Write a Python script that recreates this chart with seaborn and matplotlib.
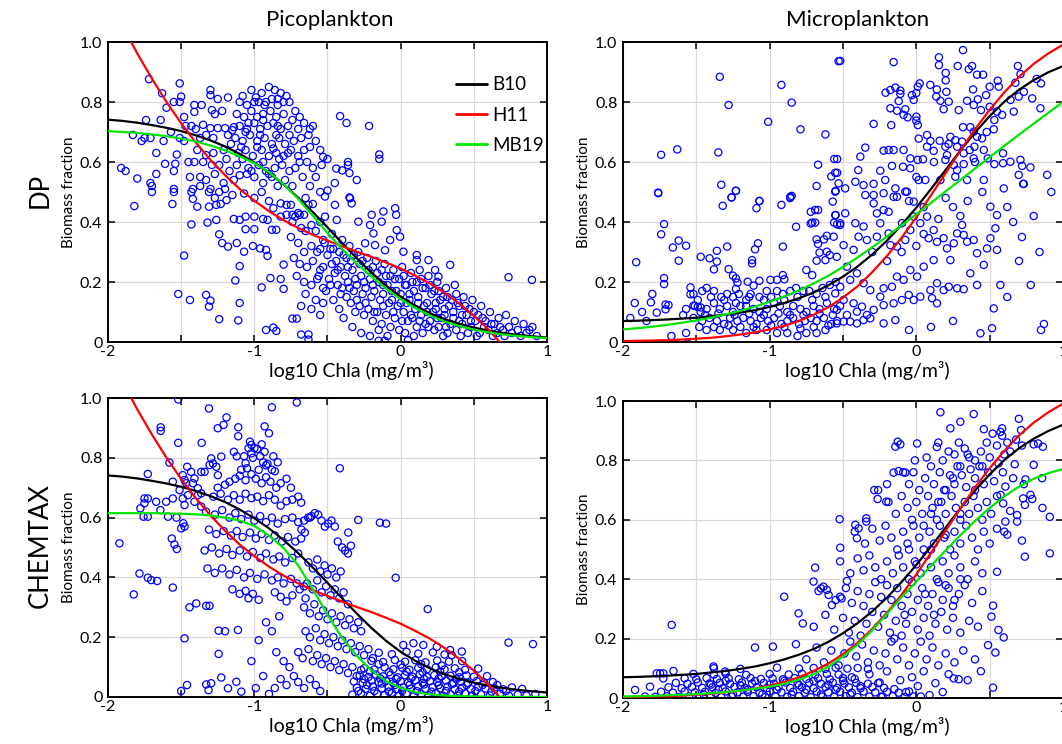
import matplotlib
matplotlib.use("Agg")
import matplotlib.pyplot as plt
from matplotlib.lines import Line2D
import seaborn as sns

# ---------------------------------------------------------------- data
log_chla = [-2.0, -1.9, -1.8, -1.7, -1.6, -1.5, -1.4, -1.3, -1.2, -1.1, -1.0,
            -0.9, -0.8, -0.7, -0.6, -0.5, -0.4, -0.3, -0.2, -0.1, 0.0,
            0.1, 0.2, 0.3, 0.4, 0.5, 0.6, 0.7, 0.8, 0.9, 1.0]

# model curves (biomass fraction vs log10 Chla)
pico_b10 = [0.741, 0.737, 0.731, 0.723, 0.714, 0.703, 0.689, 0.672, 0.652, 0.627, 0.598,
            0.564, 0.525, 0.481, 0.433, 0.382, 0.330, 0.279, 0.231, 0.188, 0.151,
            0.121, 0.096, 0.076, 0.061, 0.048, 0.038, 0.030, 0.024, 0.019, 0.015]
pico_h11 = [1.151, 1.053, 0.962, 0.878, 0.800, 0.729, 0.665, 0.607, 0.556, 0.510, 0.471,
            0.436, 0.406, 0.380, 0.357, 0.338, 0.319, 0.301, 0.284, 0.265, 0.245,
            0.221, 0.195, 0.164, 0.128, 0.088, 0.041, -0.012, -0.071, -0.137, -0.210]
pico_mb19_dp = [0.703, 0.700, 0.697, 0.692, 0.686, 0.678, 0.668, 0.655, 0.639, 0.619, 0.596,
                0.566, 0.526, 0.477, 0.421, 0.363, 0.310, 0.262, 0.218, 0.178, 0.143,
                0.113, 0.088, 0.068, 0.053, 0.041, 0.032, 0.025, 0.020, 0.016, 0.013]
pico_mb19_chemtax = [0.615, 0.615, 0.615, 0.615, 0.614, 0.613, 0.611, 0.607, 0.600, 0.590, 0.572,
                     0.540, 0.498, 0.440, 0.360, 0.275, 0.198, 0.138, 0.089, 0.053, 0.030,
                     0.016, 0.009, 0.005, 0.003, 0.002, 0.001, 0.001, 0.0, 0.0, 0.0]
micro_b10 = [0.070, 0.071, 0.073, 0.075, 0.078, 0.081, 0.086, 0.091, 0.098, 0.106, 0.117,
             0.130, 0.146, 0.165, 0.189, 0.218, 0.252, 0.292, 0.338, 0.391, 0.448,
             0.510, 0.574, 0.638, 0.698, 0.753, 0.801, 0.841, 0.873, 0.899, 0.920]
micro_h11 = [0.003, 0.004, 0.005, 0.006, 0.008, 0.011, 0.014, 0.019, 0.025, 0.032, 0.042,
             0.054, 0.070, 0.091, 0.116, 0.148, 0.186, 0.233, 0.287, 0.348, 0.416,
             0.489, 0.563, 0.638, 0.709, 0.774, 0.832, 0.884, 0.927, 0.962, 0.991]
micro_mb19_dp = [0.042, 0.046, 0.051, 0.057, 0.064, 0.072, 0.081, 0.092, 0.104, 0.118, 0.134,
                 0.152, 0.172, 0.195, 0.221, 0.250, 0.282, 0.316, 0.352, 0.389, 0.426,
                 0.464, 0.502, 0.540, 0.578, 0.616, 0.654, 0.691, 0.728, 0.764, 0.800]
micro_mb19_chemtax = [0.005, 0.006, 0.007, 0.009, 0.011, 0.013, 0.016, 0.020, 0.025, 0.031, 0.038,
                      0.048, 0.062, 0.080, 0.105, 0.140, 0.180, 0.228, 0.283, 0.340, 0.392,
                      0.445, 0.497, 0.548, 0.596, 0.640, 0.679, 0.712, 0.738, 0.757, 0.771]

# observations: (log10 Chla, biomass fraction)
dp_pico_obs = [
    (-1.91, .58), (-1.80, .545), (-1.72, .876), (-1.74, .74), (-1.75, .68), (-1.71, .68), (-1.77, .67),
    (-1.71, .53), (-1.70, .52), (-1.67, .63), (-1.67, .56), (-1.64, .74), (-1.63, .829), (-1.60, .781),
    (-1.61, .594), (-1.55, .80), (-1.51, .80), (-1.51, .862), (-1.50, .818), (-1.54, .594), (-1.53, .625),
    (-1.55, .57), (-1.55, .51), (-1.51, .68), (-1.48, .67), (-1.47, .72), (-1.43, .72), (-1.40, .71),
    (-1.82, .453), (-1.70, .50), (-1.55, .50), (-1.88, .57), (-1.83, .69), (-1.62, .67), (-1.57, .70),
    (-1.45, .60), (-1.44, .55), (-1.48, .75), (-1.56, .46),
    (-1.41, .79), (-1.36, .79), (-1.30, .84), (-1.30, .823), (-1.25, .81), (-1.18, .815), (-1.29, .773),
    (-1.22, .77), (-1.27, .76), (-1.41, .767), (-1.35, .724), (-1.30, .713), (-1.25, .713), (-1.20, .713),
    (-1.14, .716), (-1.37, .68), (-1.33, .69), (-1.28, .68), (-1.18, .69), (-1.15, .706), (-1.39, .64),
    (-1.33, .623), (-1.28, .63), (-1.21, .64), (-1.41, .60), (-1.35, .60), (-1.29, .59), (-1.24, .59),
    (-1.37, .55), (-1.33, .54), (-1.27, .56), (-1.21, .53), (-1.42, .51), (-1.37, .52), (-1.30, .51),
    (-1.24, .50), (-1.20, .51), (-1.43, .50), (-1.42, .477), (-1.39, .451), (-1.31, .50), (-1.27, .48),
    (-1.26, .457), (-1.23, .46), (-1.19, .473), (-1.31, .451), (-1.16, .66), (-1.19, .61), (-1.17, .57),
    (-1.02, .84), (-0.95, .83), (-0.90, .85), (-0.86, .84), (-0.82, .83), (-0.78, .82), (-0.88, .81),
    (-0.97, .80), (-1.10, .80), (-1.05, .79), (-1.00, .80), (-0.93, .79), (-0.84, .79), (-0.76, .80),
    (-0.72, .77), (-1.12, .76), (-1.07, .75), (-1.02, .77), (-0.98, .75), (-0.94, .76), (-0.89, .77),
    (-0.85, .75), (-0.80, .76), (-0.74, .74), (-1.10, .72), (-1.05, .71), (-1.00, .73), (-0.96, .71),
    (-0.91, .72), (-0.87, .73), (-0.82, .71), (-0.77, .72), (-0.70, .71), (-1.13, .68), (-1.08, .67),
    (-1.03, .69), (-0.98, .67), (-0.93, .68), (-0.88, .66), (-0.83, .68), (-0.79, .66), (-0.73, .67),
    (-0.68, .68), (-1.11, .63), (-1.06, .64), (-1.01, .62), (-0.95, .64), (-0.90, .62), (-0.85, .63),
    (-0.80, .62), (-0.75, .64), (-0.70, .62), (-0.66, .64), (-1.12, .59), (-1.04, .58), (-0.97, .59),
    (-0.92, .57), (-0.86, .58), (-0.81, .59), (-0.76, .57), (-0.72, .58), (-1.14, .54), (-1.10, .556),
    (-1.05, .56), (-1.00, .55), (-0.94, .53), (-0.88, .55), (-0.84, .52), (-0.79, .54), (-0.74, .52),
    (-1.15, .49), (-1.07, .495), (-1.00, .48), (-0.95, .50), (-0.90, .47),
    (-1.08, .82), (-0.99, .815), (-0.92, .80), (-0.84, .81), (-0.80, .80), (-1.04, .73), (-0.94, .74),
    (-0.84, .72), (-1.06, .70), (-0.96, .69), (-0.85, .69), (-0.76, .69), (-1.09, .65), (-0.98, .65),
    (-0.87, .645), (-0.77, .63), (-1.08, .61), (-0.94, .60), (-0.83, .61), (-0.69, .60), (-1.02, .57),
    (-0.90, .56),
    (-0.69, .75), (-0.66, .73), (-0.62, .71), (-0.63, .69), (-0.60, .72), (-0.62, .65), (-0.58, .67),
    (-0.55, .64), (-0.53, .617), (-0.50, .61), (-0.54, .59), (-0.44, .578), (-0.40, .572), (-0.35, .563),
    (-0.30, .54), (-0.45, .53), (-0.50, .505), (-0.35, .482), (-0.414, .753), (-0.37, .73), (-0.216, .72),
    (-0.36, .60), (-0.36, .59), (-0.146, .625), (-0.146, .61), (-0.64, .60), (-0.60, .58), (-0.67, .55),
    (-0.62, .52), (-0.58, .55), (-0.55, .50), (-0.65, .48), (-0.60, .46),
    (-1.14, .41), (-1.10, .407), (-1.06, .418), (-1.00, .418), (-1.06, .376), (-1.00, .376), (-1.12, .33),
    (-1.07, .301), (-1.01, .32), (-0.96, .312), (-0.92, .307), (-0.91, .287), (-0.94, .41), (-0.91, .407),
    (-0.88, .374), (-0.85, .374), (-0.82, .418), (-0.78, .424), (-0.74, .424), (-0.69, .424), (-0.66, .424),
    (-0.63, .457), (-0.87, .446), (-0.82, .462), (-0.78, .457), (-0.75, .457), (-0.72, .418), (-1.43, .392),
    (-1.32, .398), (-1.26, .407), (-1.24, .359), (-1.22, .33), (-1.18, .318), (-1.48, .288), (-1.10, .253),
    (-1.13, .205), (-0.89, .213), (-0.82, .21), (-0.80, .177), (-0.80, .258), (-0.95, .182),
    (-0.74, .40), (-0.70, .43), (-0.68, .38), (-0.65, .37), (-0.61, .39), (-0.58, .37), (-0.55, .40),
    (-0.75, .35), (-0.70, .33), (-0.66, .30), (-0.61, .32), (-0.57, .30), (-0.53, .34), (-0.73, .28),
    (-0.69, .26), (-0.64, .25), (-0.60, .27), (-0.55, .24), (-0.71, .22), (-0.66, .20), (-0.61, .19),
    (-0.57, .21), (-0.53, .18), (-0.65, .16), (-0.58, .14), (-0.53, .13), (-0.68, .12), (-0.61, .11),
    (-0.55, .09),
    (-1.33, .157), (-1.30, .138), (-1.31, .118), (-1.24, .076), (-1.10, .13), (-1.11, .072), (-0.92, .04),
    (-0.87, .048), (-0.85, .037), (-0.74, .078), (-0.71, .078), (-0.68, .025), (-0.63, .008), (-0.63, .025),
    (-1.52, .16), (-1.44, .14),
    (-0.52, .33), (-0.50, .29), (-0.53, .25), (-0.49, .21), (-0.51, .17), (-0.47, .36), (-0.46, .31),
    (-0.44, .27), (-0.45, .23), (-0.43, .19), (-0.46, .14), (-0.42, .11), (-0.40, .34), (-0.39, .29),
    (-0.41, .25), (-0.38, .22), (-0.40, .18), (-0.37, .15), (-0.39, .08), (-0.35, .32), (-0.34, .27),
    (-0.33, .24), (-0.36, .20), (-0.32, .17), (-0.34, .13), (-0.31, .10), (-0.33, .05), (-0.29, .30),
    (-0.28, .26), (-0.27, .22), (-0.30, .19), (-0.26, .16), (-0.28, .12), (-0.25, .09), (-0.27, .03),
    (-0.23, .28), (-0.22, .24), (-0.21, .21), (-0.24, .18), (-0.20, .15), (-0.22, .11), (-0.19, .07),
    (-0.21, .02), (-0.17, .27), (-0.16, .23), (-0.15, .20), (-0.18, .17), (-0.14, .14), (-0.16, .10),
    (-0.13, .06), (-0.15, .04), (-0.11, .26), (-0.10, .22), (-0.09, .19), (-0.12, .16), (-0.08, .13),
    (-0.10, .09), (-0.07, .05), (-0.09, .02), (-0.05, .24), (-0.04, .21), (-0.03, .17), (-0.06, .14),
    (-0.02, .12), (-0.04, .08), (-0.01, .04), (0.01, .25), (0.02, .22), (0.03, .19), (0.00, .16),
    (0.04, .13), (0.02, .10), (0.05, .07), (0.03, .03), (0.07, .23), (0.08, .20), (0.09, .17),
    (0.06, .14), (0.10, .11), (0.08, .08), (0.11, .05), (0.09, .02), (0.13, .24), (0.14, .21),
    (0.15, .18), (0.12, .15), (0.16, .12), (0.14, .09), (0.17, .06), (0.15, .03), (0.19, .22),
    (0.20, .19), (0.21, .16), (0.18, .13), (0.22, .10), (0.20, .07), (0.23, .04), (0.25, .20),
    (0.26, .17), (0.27, .14), (0.24, .11), (0.28, .08), (0.26, .05), (0.29, .02), (0.31, .18),
    (0.32, .15), (0.33, .12), (0.30, .09), (0.34, .06), (0.32, .03), (0.37, .19), (0.38, .16),
    (0.39, .13), (0.36, .10), (0.40, .07), (0.38, .04), (0.41, .02), (0.43, .15), (0.44, .12),
    (0.45, .09), (0.42, .06), (0.46, .03), (0.49, .14), (0.50, .10), (0.51, .07), (0.48, .05),
    (0.52, .02), (0.55, .12), (0.56, .08), (0.57, .05), (0.54, .03), (0.61, .10), (0.62, .06),
    (0.60, .04), (0.63, .02), (0.67, .08), (0.68, .05), (0.66, .03), (0.72, .09), (0.74, .05),
    (0.71, .02), (0.78, .07), (0.80, .04), (0.84, .06), (0.86, .03), (0.90, .05), (0.93, .02),
    (-0.48, .31), (-0.47, .26), (-0.48, .19), (-0.42, .30), (-0.43, .24), (-0.41, .16), (-0.37, .28),
    (-0.36, .25), (-0.35, .18), (-0.32, .29), (-0.31, .21), (-0.30, .14), (-0.26, .27), (-0.25, .20),
    (-0.24, .13), (-0.19, .25), (-0.19, .19), (-0.18, .10), (-0.13, .24), (-0.12, .19), (-0.12, .12),
    (-0.07, .22), (-0.06, .17), (-0.05, .10), (-0.01, .21), (0.00, .13), (0.01, .07), (0.04, .19),
    (0.06, .16), (0.07, .09), (0.11, .20), (0.12, .13), (0.13, .07), (0.17, .18), (0.18, .10),
    (0.19, .05), (0.23, .17), (0.24, .13), (0.25, .08), (0.29, .15), (0.30, .11), (0.31, .05),
    (0.35, .14), (0.36, .08), (0.40, .12), (0.42, .09), (0.47, .11), (0.48, .07), (0.53, .09),
    (0.58, .07), (0.64, .06), (0.70, .04), (0.76, .03), (0.82, .02), (0.88, .04), (-0.55, .31),
    (-0.56, .22),
    (-0.517, .485), (-0.449, .457), (-0.346, .479), (-0.335, .462), (-0.517, .418), (-0.437, .407),
    (-0.289, .401), (-0.198, .424), (-0.209, .39), (-0.118, .435), (-0.038, .446), (-0.031, .424),
    (-0.13, .401), (-0.027, .373), (-0.004, .351), (-0.072, .34), (-0.186, .362), (-0.243, .329),
    (-0.175, .323), (-0.107, .306), (0.019, .301), (0.11, .29), (0.11, .273), (0.19, .273),
    (0.338, .257), (0.235, .24), (0.258, .218), (0.737, .216), (0.897, .207),
    (-0.15, .004), (-0.11, .004), (0.05, .006),
]

dp_micro_obs = [
    (-1.52, .16), (-1.46, .17), (-1.43, .18), (-1.38, .17), (-1.33, .15), (-1.29, .16), (-1.25, .15),
    (-1.21, .16), (-1.16, .14), (-1.13, .16), (-1.07, .15), (-1.02, .17), (-0.95, .17), (-0.91, .16),
    (-0.86, .17), (-0.82, .18), (-0.77, .17), (-0.73, .17), (-0.68, .16), (-0.64, .18), (-0.59, .19),
    (-0.55, .20), (-1.57, .11), (-1.51, .12), (-1.47, .10), (-1.43, .11), (-1.38, .13), (-1.34, .11),
    (-1.29, .12), (-1.25, .10), (-1.20, .12), (-1.16, .12), (-1.11, .11), (-1.07, .10), (-1.02, .11),
    (-0.97, .13), (-0.93, .12), (-0.88, .10), (-0.84, .12), (-0.79, .11), (-0.75, .10), (-0.70, .12),
    (-0.66, .11), (-0.61, .13), (-0.56, .11), (-0.52, .12), (-1.52, .08), (-1.46, .07), (-1.41, .08),
    (-1.36, .07), (-1.31, .06), (-1.27, .08), (-1.22, .07), (-1.18, .08), (-1.13, .07), (-1.09, .06),
    (-1.06, .08), (-1.01, .07), (-0.97, .08), (-0.92, .06), (-0.88, .07), (-0.84, .08), (-0.80, .06),
    (-0.76, .07), (-0.72, .08), (-0.68, .07), (-0.63, .08), (-0.58, .06), (-0.54, .07), (-1.57, .03),
    (-1.43, .04), (-1.34, .04), (-1.25, .04), (-1.16, .03), (-1.09, .04), (-1.02, .04), (-0.95, .03),
    (-0.88, .03), (-0.81, .02), (-0.75, .03), (-0.68, .03), (-0.62, .04), (-1.56, -.005),
    (-1.49, .14), (-1.40, .15), (-1.31, .14), (-1.23, .13), (-1.14, .15), (-1.04, .14), (-0.99, .15),
    (-0.90, .14), (-0.81, .15), (-0.71, .14), (-0.62, .15), (-1.44, .09), (-1.35, .095), (-1.24, .09),
    (-1.14, .095), (-1.04, .09), (-0.94, .095), (-0.86, .09), (-0.77, .09), (-0.66, .095), (-0.57, .09),
    (-1.48, .05), (-1.38, .05), (-1.28, .055), (-1.20, .05), (-1.11, .05), (-0.99, .055), (-0.90, .05),
    (-0.79, .045), (-0.70, .05), (-0.60, .055),
    (-1.91, .266), (-1.76, .498), (-1.72, .393), (-1.74, .359), (-1.66, .315), (-1.62, .338), (-1.62, .271),
    (-1.57, .321), (-1.72, .213), (-1.72, .193), (-1.81, .132), (-1.77, .098), (-1.71, .125), (-1.71, .109),
    (-1.69, .123), (-1.67, .02), (-1.54, .182), (-1.54, .159), (-1.59, .09), (-1.52, .121), (-1.49, .117),
    (-1.47, .115), (-1.47, .284), (-1.41, .279), (-1.36, .268), (-1.36, .304), (-1.38, .242), (-1.32, .454),
    (-1.26, .482), (-1.23, .504), (-1.29, .318), (-1.28, .243), (-1.25, .221), (-1.23, .212), (-1.22, .198),
    (-1.23, .177), (-1.15, .201), (-1.11, .188), (-1.07, .204), (-0.995, .207), (-0.95, .207), (-1.12, .273),
    (-1.12, .262), (-1.10, .309), (-1.08, .329), (-1.09, .446), (-1.07, .47), (-0.92, .457), (-0.86, .484),
    (-0.85, .487), (-0.91, .318), (-0.91, .223), (-0.90, .209), (-0.82, .384), (-0.75, .24), (-0.71, .223),
    (-0.68, .271), (-0.66, .298), (-0.62, .273), (-0.61, .301), (-0.59, .29), (-0.72, .395), (-0.71, .398),
    (-0.69, .398), (-0.68, .342), (-0.67, .327), (-0.63, .342), (-0.61, .354), (-0.56, .398), (-0.55, .423),
    (-0.54, .392), (-0.52, .39), (-0.72, .434), (-0.69, .44), (-0.67, .44), (-0.57, .468),
    (-1.92, .13), (-1.87, .10), (-1.84, .07), (-1.80, .16), (-1.95, .08),
    (-1.34, .884), (-1.28, .79), (-0.92, .857), (-0.85, .798), (-1.01, .734), (-0.79, .709), (-0.62, .692),
    (-0.53, .936), (-1.74, .624), (-1.63, .642), (-1.35, .632), (-1.76, .496), (-1.33, .524), (-1.23, .504),
    (-1.26, .482), (-1.07, .47), (-0.86, .48), (-0.68, .52), (-0.67, .591), (-0.54, .61), (-0.58, .552),
    (-0.54, .564), (-0.53, .529), (-0.55, .504),
    (-0.519, .937), (-0.155, .933), (0.154, .949), (0.154, .923), (0.318, .973), (0.282, .92), (0.357, .909),
    (0.38, .92), (0.2, .897), (0.2, .872), (0.414, .891), (0.455, .891), (0.555, .871), (0.562, .851),
    (0.692, .92), (0.71, .893), (0.675, .864), (0.82, .877), (0.85, .862), (-0.21, .831), (-0.177, .84),
    (-0.143, .848), (-0.109, .838), (-0.109, .827), (-0.03, .823), (-0.018, .807), (0.0, .83), (0.023, .862),
    (0.01, .851), (0.095, .857), (0.14, .842), (0.205, .834), (0.164, .804), (0.136, .818), (-0.12, .803),
    (-0.177, .779), (-0.132, .771), (-0.075, .776), (-0.087, .757), (-0.06, .749), (0.0, .751), (0.01, .723),
    (0.186, .776), (0.221, .801), (0.289, .773), (0.346, .804), (0.387, .842), (0.391, .79), (0.419, .809),
    (0.441, .773), (0.475, .823), (0.5, .851), (0.5, .784), (0.55, .768), (0.585, .757), (0.642, .807),
    (0.664, .768), (0.698, .818), (0.733, .834), (0.79, .812), (0.846, .779),
    (-0.291, .727), (-0.171, .723), (0.0, .738), (0.016, .678), (0.073, .69), (0.096, .67), (0.073, .651),
    (0.118, .637), (0.159, .671), (0.198, .651), (0.232, .684), (0.266, .673), (0.278, .651), (0.312, .668),
    (0.318, .716), (0.368, .716), (0.391, .701), (0.414, .684), (0.448, .679), (0.396, .651), (0.364, .64),
    (0.323, .629), (0.209, .623), (0.198, .607), (0.255, .59), (0.278, .573), (0.323, .593), (0.391, .612),
    (0.46, .64), (0.487, .612), (0.528, .709), (0.532, .74), (0.591, .629), (0.591, .596), (0.532, .593),
    (0.641, .601), (0.71, .607), (0.721, .587), (0.778, .582), (0.698, .557), (0.733, .527), (0.892, .557),
    (-0.223, .638), (-0.189, .64), (-0.155, .64), (-0.087, .64), (-0.348, .648), (-0.382, .618), (-0.56, .61),
    (-0.041, .612), (0.009, .607), (0.045, .609), (-0.041, .579), (-0.091, .584), (-0.166, .587),
    (-0.246, .571), (-0.396, .573), (-0.553, .564), (-0.416, .534), (-0.36, .523), (-0.291, .527),
    (-0.212, .54), (-0.143, .512), (-0.075, .501), (0.016, .54), (0.061, .54), (0.164, .54), (0.266, .551),
    (0.346, .54), (0.46, .54), (0.596, .512), (0.728, .527), (-0.485, .512), (-0.553, .501), (-0.348, .49),
    (-0.223, .496), (-0.132, .484),
    (-0.553, .423), (-0.485, .429), (-0.519, .396), (-0.564, .351), (-0.496, .323), (-0.542, .284),
    (-0.473, .251), (-0.428, .307), (-0.394, .351), (-0.36, .385), (-0.416, .396), (-0.337, .34),
    (-0.291, .462), (-0.269, .429), (-0.223, .44), (-0.189, .434), (-0.246, .396), (-0.189, .362),
    (-0.269, .351), (-0.177, .323), (-0.132, .318), (-0.098, .396), (-0.075, .34), (-0.041, .373),
    (-0.018, .418), (0.027, .396), (0.073, .418), (0.084, .346), (0.118, .373), (0.141, .334), (0.186, .346),
    (0.209, .312), (0.255, .329), (0.278, .362), (0.312, .39), (0.323, .357), (0.346, .334), (0.232, .273),
    (0.118, .273), (0.05, .251), (0.005, .218), (-0.041, .24), (-0.087, .207), (-0.132, .218), (-0.166, .184),
    (-0.223, .179), (-0.246, .151), (-0.314, .173), (-0.36, .196), (-0.405, .229), (-0.451, .207),
    (-0.519, .184), (-0.553, .162), (-0.496, .14), (-0.428, .129), (-0.371, .118), (-0.542, .107),
    (-0.473, .09), (-0.405, .101), (-0.337, .09), (-0.291, .107), (-0.223, .123), (-0.155, .129),
    (-0.098, .14), (-0.052, .157), (-0.018, .14), (0.027, .151), (0.096, .173), (0.141, .196), (0.186, .173),
    (0.221, .184), (0.278, .179), (0.323, .176), (0.368, .229), (0.414, .296), (0.46, .257), (0.482, .312),
    (0.391, .34), (0.539, .379), (0.55, .307), (0.573, .19), (0.505, .346), (0.505, .451), (0.55, .423),
    (0.528, .112), (0.107, .146), (0.141, .129), (0.414, .19), (-0.223, .062), (-0.143, .073), (0.437, .029),
    (0.516, .046), (-0.542, .062), (-0.451, .068), (-0.36, .073), (-0.314, .079), (-0.405, .062),
    (-0.496, .068), (-0.291, .49), (-0.155, .484), (-0.018, .468), (-0.064, .501),
    (0.62, .45), (0.66, .40), (0.72, .35), (0.80, .42), (0.84, .30), (0.70, .27), (0.92, .50), (0.87, .06),
    (0.85, .04), (0.62, .15), (0.78, .19), (-0.05, .04), (0.10, .05), (0.25, .07),
    (-0.30, .30), (-0.20, .27), (-0.10, .30), (0.00, .32), (0.05, .36), (0.15, .41), (0.25, .45),
    (0.35, .47), (0.45, .50), (0.05, .45), (0.20, .48), (0.30, .42), (-0.05, .47), (0.40, .60),
    (0.12, .60), (0.00, .55), (0.22, .66), (0.48, .70),
]

chemtax_pico_obs = [
    (-1.52, .995), (-1.31, .965), (-0.88, .969), (-0.71, .985), (-1.19, .935), (-1.21, .91), (-1.25, .899),
    (-1.11, .902), (-1.11, .872), (-0.93, .905), (-0.90, .882), (-1.64, .902), (-1.64, .89), (-1.52, .85),
    (-1.36, .85),
    (-1.03, .854), (-1.02, .843), (-1.04, .832), (-1.00, .832), (-1.02, .815), (-0.98, .83), (-0.95, .845),
    (-0.96, .805), (-0.93, .82), (-0.91, .78), (-0.87, .805), (-0.94, .785), (-0.92, .775), (-1.01, .80),
    (-1.07, .805), (-1.06, .782), (-1.12, .805), (-1.14, .82), (-0.88, .76), (-0.84, .785), (-0.86, .755),
    (-0.97, .76), (-1.05, .765), (-1.09, .76),
    (-1.295, .798), (-1.283, .781), (-1.306, .776), (-1.226, .804), (-1.249, .742), (-1.26, .77),
    (-1.58, .784), (-1.459, .77), (-1.489, .742), (-1.432, .753), (-1.409, .731), (-1.363, .753),
    (-1.34, .753), (-1.728, .746), (-1.557, .72), (-1.477, .726), (-1.466, .715), (-1.42, .715),
    (-1.386, .698), (-1.454, .675), (-1.489, .664), (-1.386, .675), (-1.363, .681), (-1.751, .664),
    (-1.728, .664), (-1.751, .648), (-1.671, .653), (-1.603, .653), (-1.557, .664), (-1.511, .692),
    (-1.477, .642), (-1.409, .653), (-1.363, .637), (-1.779, .631), (-1.757, .603), (-1.728, .603),
    (-1.642, .625), (-1.59, .603), (-1.532, .6), (-1.486, .581), (-1.477, .57), (-1.922, .514),
    (-1.564, .53), (-1.546, .51), (-1.53, .495), (-1.5, .564), (-1.785, .413), (-1.728, .399),
    (-1.705, .391), (-1.664, .388), (-1.557, .366), (-1.824, .343), (-1.443, .3), (-1.397, .313),
    (-1.329, .305), (-1.306, .305), (-1.477, .196), (-1.244, .222), (-1.244, .144), (-1.226, .065),
    (-1.18, .029), (-1.329, .042), (-1.313, .023), (-1.295, .046), (-1.123, .051), (-1.089, .018),
    (-1.112, .224),
    (-1.25, .70), (-1.20, .71), (-1.17, .72), (-1.13, .73), (-1.10, .74), (-1.06, .725), (-1.02, .745),
    (-0.99, .73), (-0.95, .715), (-0.92, .735), (-0.89, .72), (-0.85, .70), (-0.82, .715), (-0.78, .73),
    (-0.75, .70), (-1.28, .67), (-1.23, .68), (-1.18, .66), (-1.14, .675), (-1.10, .66), (-1.06, .68),
    (-1.02, .665), (-0.98, .67), (-0.94, .655), (-0.90, .675), (-0.86, .66), (-0.82, .64), (-0.78, .655),
    (-0.74, .66), (-0.70, .67), (-0.68, .65), (-1.33, .62), (-1.27, .61), (-1.22, .625), (-1.17, .60),
    (-1.13, .615), (-1.09, .595), (-1.04, .61), (-1.00, .59), (-0.96, .605), (-0.92, .585), (-0.88, .60),
    (-0.84, .58), (-0.79, .595), (-0.74, .60), (-0.70, .585), (-0.66, .59), (-0.62, .60), (-1.31, .56),
    (-1.26, .545), (-1.21, .555), (-1.16, .54), (-1.12, .555), (-1.08, .535), (-1.03, .55), (-0.99, .53),
    (-0.95, .545), (-0.90, .525), (-0.86, .54), (-0.81, .52), (-0.77, .535), (-0.72, .52), (-0.68, .53),
    (-1.34, .49), (-1.29, .50), (-1.24, .48), (-1.19, .495), (-1.15, .475), (-1.10, .49), (-1.05, .47),
    (-1.01, .485), (-0.96, .465), (-0.92, .48), (-0.87, .46), (-0.83, .47), (-0.79, .45), (-0.74, .465),
    (-0.70, .48), (-1.32, .43), (-1.27, .415), (-1.22, .43), (-1.17, .41), (-1.12, .425), (-1.07, .40),
    (-1.03, .415), (-0.98, .395), (-0.93, .41), (-0.88, .39), (-0.84, .40), (-0.80, .38), (-0.75, .395),
    (-0.71, .38), (-1.15, .36), (-1.10, .345), (-1.06, .355), (-1.04, .33), (-1.01, .345), (-0.97, .325),
    (-0.86, .35), (-0.82, .335), (-0.78, .32), (-0.74, .34), (-0.69, .36), (-0.66, .37), (-0.65, .33),
    (-0.678, .56), (-0.655, .55), (-0.632, .60), (-0.61, .605), (-0.587, .615), (-0.564, .61),
    (-0.541, .59), (-0.518, .57), (-0.495, .58), (-0.473, .59), (-0.45, .57), (-0.43, .52), (-0.40, .50),
    (-0.38, .49), (-0.36, .48), (-0.416, .765), (-0.29, .592), (-0.358, .55), (-0.34, .506), (-0.142, .583),
    (-0.10, .58), (-0.034, .399),
    (-0.63, .45), (-0.60, .43), (-0.57, .46), (-0.55, .42), (-0.52, .44), (-0.50, .41), (-0.47, .43),
    (-0.44, .40), (-0.41, .42), (-0.64, .38), (-0.60, .36), (-0.57, .39), (-0.54, .35), (-0.51, .37),
    (-0.48, .34), (-0.45, .36), (-0.42, .33), (-0.39, .35), (-0.36, .31), (-0.66, .30), (-0.62, .28),
    (-0.59, .31), (-0.56, .27), (-0.53, .29), (-0.50, .26), (-0.47, .28), (-0.44, .25), (-0.41, .27),
    (-0.38, .24), (-0.35, .26), (-0.32, .23), (-0.29, .25), (-0.27, .22), (-0.65, .22), (-0.62, .20),
    (-0.58, .23), (-0.55, .19), (-0.52, .21), (-0.49, .18), (-0.46, .20), (-0.43, .17), (-0.40, .19),
    (-0.37, .16), (-0.34, .18), (-0.31, .15), (-0.28, .17), (-0.25, .14), (-0.22, .16), (-0.19, .13),
    (-0.70, .15), (-0.67, .13), (-0.63, .16), (-0.60, .12), (-0.57, .14), (-0.54, .11), (-0.51, .13),
    (-0.48, .10), (-0.45, .12), (-0.42, .09), (-0.39, .11), (-0.36, .08), (-0.33, .10), (-0.30, .07),
    (-0.27, .09), (-0.85, .15), (-0.80, .12), (-0.76, .10), (-0.73, .07), (-0.82, .06), (-0.78, .04),
    (-0.70, .05), (-0.66, .03), (-0.62, .06), (-0.58, .04), (-0.55, .02), (-0.94, .07), (-0.99, .03),
    (-0.90, .01), (-0.86, .03), (-1.02, .12), (-0.97, .19), (-0.92, .25), (-0.88, .22), (-0.83, .27),
    (-1.20, .22), (-1.46, .04), (-1.50, .02),
    (-0.33, .008), (-0.27, .013), (-0.21, .004), (-0.16, .011), (-0.11, .006), (-0.06, .014), (-0.01, .005),
    (0.04, .012), (0.09, .003), (0.14, .010), (0.19, .006), (0.24, .013), (0.29, .004), (0.34, .009),
    (0.39, .005), (0.44, .012), (0.49, .004), (0.55, .009), (0.61, .005), (0.68, .011), (0.74, .004),
    (0.80, .008), (0.86, .005), (0.92, .010),
    (-0.30, .031), (-0.24, .027), (-0.19, .035), (-0.13, .029), (-0.08, .034), (-0.03, .026), (0.02, .032),
    (0.07, .028), (0.12, .036), (0.17, .027), (0.22, .033), (0.27, .029), (0.32, .035), (0.37, .026),
    (0.42, .031), (0.48, .027), (0.53, .034), (0.58, .028), (0.64, .030), (0.70, .026), (0.76, .032),
    (0.83, .027),
    (-0.32, .052), (-0.26, .047), (-0.20, .055), (-0.15, .049), (-0.10, .054), (-0.05, .046), (0.00, .053),
    (0.05, .048), (0.10, .056), (0.15, .047), (0.20, .053), (0.25, .049), (0.31, .055), (0.36, .046),
    (0.41, .051), (0.46, .047), (0.52, .053), (0.57, .048), (0.63, .050),
    (-0.28, .072), (-0.22, .067), (-0.17, .075), (-0.12, .069), (-0.07, .074), (-0.02, .066), (0.03, .073),
    (0.08, .068), (0.13, .076), (0.18, .067), (0.23, .073), (0.28, .069), (0.34, .071), (0.40, .066),
    (0.45, .072), (0.50, .068), (0.59, .070),
    (-0.25, .096), (-0.18, .092), (-0.11, .099), (-0.05, .093), (0.01, .098), (0.06, .091), (0.12, .097),
    (0.18, .093), (0.24, .099), (0.30, .092), (0.37, .096), (0.44, .091), (0.53, .095),
    (-0.20, .121), (-0.12, .117), (-0.04, .124), (0.03, .118), (0.10, .123), (0.17, .116), (0.25, .122),
    (0.33, .118), (0.42, .120), (-0.15, .148), (-0.06, .143), (0.04, .151), (0.12, .145), (0.22, .149),
    (0.30, .142),
    (-0.29, .020), (-0.23, .040), (-0.18, .020), (-0.13, .045), (-0.08, .018), (-0.04, .040), (0.01, .020),
    (0.06, .040), (0.11, .020), (0.16, .042), (0.21, .018), (0.26, .040), (0.31, .020), (0.35, .043),
    (0.40, .018), (0.45, .040), (0.51, .020), (0.56, .040), (0.62, .018), (0.66, .040), (0.72, .020),
    (-0.25, .060), (-0.14, .062), (-0.03, .060), (0.07, .062), (0.16, .060), (0.26, .062), (0.38, .060),
    (-0.21, .085), (-0.08, .083), (0.04, .085), (0.15, .083), (0.27, .085), (0.40, .083), (-0.15, .110),
    (0.00, .108), (0.14, .110), (0.28, .105),
    (0.185, .294), (0.737, .182), (0.904, .177), (0.418, .152), (0.018, .174), (0.087, .18), (0.155, .174),
    (0.247, .168), (0.338, .157), (0.349, .14),
]

chemtax_micro_obs = [
    (-1.918, .027), (-1.77, .083), (-1.747, .083), (-1.725, .083), (-1.725, .066), (-1.656, .091),
    (-1.816, .038), (-1.383, .106), (-1.304, .089),
    (-1.85, .005), (-1.78, .004), (-1.70, .006), (-1.62, .003), (-1.55, .005), (-1.48, .004), (-1.40, .006),
    (-1.33, .003), (-1.26, .005), (-1.18, .004), (-1.11, .006), (-1.03, .003), (-0.96, .005), (-0.88, .004),
    (-0.80, .006), (-0.72, .003), (-0.64, .005), (-0.56, .004), (-0.48, .006), (-0.40, .003), (-0.32, .005),
    (-0.24, .004), (-0.16, .006), (-0.08, .003), (-0.02, .005),
    (-1.74, .021), (-1.66, .018), (-1.58, .022), (-1.51, .019), (-1.44, .021), (-1.37, .017), (-1.30, .022),
    (-1.22, .019), (-1.15, .021), (-1.07, .018), (-1.00, .022), (-0.92, .019), (-0.84, .021), (-0.76, .018),
    (-0.68, .022), (-0.60, .019), (-0.52, .021), (-0.44, .018), (-0.36, .022), (-0.28, .019), (-0.20, .021),
    (-0.12, .018), (-0.05, .022),
    (-1.69, .036), (-1.60, .033), (-1.53, .037), (-1.46, .034), (-1.39, .036), (-1.32, .033), (-1.24, .037),
    (-1.17, .034), (-1.09, .036), (-1.02, .033), (-0.94, .037), (-0.86, .034), (-0.78, .036), (-0.70, .033),
    (-0.62, .037), (-0.54, .034), (-0.46, .036), (-0.38, .033), (-0.30, .037), (-0.22, .034),
    (-1.64, .051), (-1.56, .048), (-1.49, .052), (-1.41, .049), (-1.34, .051), (-1.27, .048), (-1.19, .052),
    (-1.12, .049), (-1.04, .051), (-0.97, .048), (-0.89, .052), (-0.81, .049), (-0.73, .051), (-0.65, .048),
    (-0.57, .052), (-0.49, .049), (-0.41, .051), (-0.33, .048), (-0.25, .052),
    (-1.58, .066), (-1.50, .063), (-1.43, .067), (-1.36, .064), (-1.28, .066), (-1.21, .063), (-1.13, .067),
    (-1.06, .064), (-0.98, .066), (-0.91, .063), (-0.83, .067), (-0.75, .064), (-0.67, .066), (-0.59, .063),
    (-0.50, .067), (-0.42, .064),
    (-1.52, .081), (-1.38, .079), (-1.30, .082), (-1.16, .078), (-1.00, .081), (-0.87, .079), (-0.78, .082),
    (-0.69, .078), (-0.61, .081), (-0.53, .079),
    (-1.38, .10), (-1.20, .098), (-0.95, .102), (-0.80, .099), (-0.70, .101), (-0.62, .098), (-0.55, .102),
    (-0.47, .099), (-0.40, .101), (-0.33, .098),
    (-1.45, .012), (-1.35, .028), (-1.25, .012), (-1.15, .028), (-1.05, .012), (-0.95, .028), (-0.85, .012),
    (-0.75, .028), (-0.65, .012), (-0.55, .028), (-0.45, .012), (-1.40, .045), (-1.20, .043), (-1.00, .045),
    (-0.80, .043), (-0.60, .045), (-1.30, .058), (-1.10, .057), (-0.90, .058), (-0.70, .057), (-0.50, .058),
    (-1.668, .246), (-1.10, .17), (-0.978, .173), (-0.821, .181), (-0.803, .285), (-0.774, .251),
    (-0.701, .392), (-0.69, .439), (-0.667, .36), (-0.651, .369), (-0.633, .375), (-0.598, .347),
    (-0.61, .364), (-0.576, .313), (-0.519, .341), (-0.51, .335), (-0.473, .394), (-0.519, .506),
    (-0.523, .602), (-0.901, .341), (-0.416, .583), (-0.394, .571), (-0.405, .538), (-0.341, .605),
    (-0.341, .594), (-0.287, .70), (-0.264, .67), (-0.205, .661), (-0.155, .759), (-0.121, .764),
    (-0.075, .759), (-0.127, .863), (-0.109, .854), (-0.143, .846), (0.005, .857),
    (0.164, .962), (0.391, .956), (0.232, .908), (0.46, .905), (0.585, .908), (0.699, .94), (0.714, .902),
    (0.574, .896), (0.585, .883), (0.52, .89), (0.30, .93),
    (0.80, .854), (0.83, .857), (0.862, .846), (0.15, .86), (0.14, .845), (0.18, .80), (0.22, .83),
    (0.26, .82), (0.29, .86), (0.33, .84), (0.36, .81), (0.40, .80), (0.44, .83), (0.48, .86), (0.50, .81),
    (0.55, .85), (0.60, .82), (0.62, .86), (0.64, .83), (0.68, .87), (0.72, .85), (0.07, .81), (-0.01, .80),
    (0.671, .787), (0.80, .785), (0.858, .74), (0.607, .712), (0.733, .72), (0.744, .736), (-0.09, .76),
    (-0.05, .72), (-0.02, .76), (0.02, .70), (0.06, .74), (0.10, .78), (0.12, .72), (0.16, .76), (0.19, .70),
    (0.23, .75), (0.26, .72), (0.28, .78), (0.31, .75), (0.34, .71), (0.37, .77), (0.40, .74), (0.43, .78),
    (0.46, .72), (0.49, .76), (0.53, .73), (0.56, .79), (0.59, .76), (0.66, .74), (-0.20, .72), (-0.26, .70),
    (0.574, .684), (0.592, .655), (0.728, .672), (0.74, .65), (0.79, .67), (0.778, .684), (0.687, .616),
    (0.687, .594), (0.607, .594), (-0.19, .66), (-0.14, .62), (-0.10, .68), (-0.06, .64), (-0.03, .60),
    (0.00, .66), (0.04, .62), (0.08, .68), (0.11, .64), (0.14, .60), (0.17, .66), (0.20, .62), (0.24, .68),
    (0.27, .64), (0.30, .60), (0.33, .66), (0.36, .62), (0.39, .68), (0.42, .64), (0.45, .60), (0.48, .66),
    (0.51, .62), (0.55, .68), (0.64, .63), (0.86, .64), (0.91, .61),
    (-0.42, .56), (-0.35, .52), (-0.30, .57), (-0.25, .53), (-0.21, .58), (-0.17, .54), (-0.13, .50),
    (-0.09, .56), (-0.06, .52), (-0.02, .58), (0.02, .54), (0.05, .50), (0.09, .56), (0.12, .52), (0.16, .58),
    (0.19, .54), (0.23, .50), (0.26, .56), (0.30, .52), (0.34, .58), (0.38, .54), (0.42, .50), (0.46, .56),
    (0.50, .52), (0.55, .57), (0.60, .56), (0.62, .55), (0.72, .53),
    (0.91, .487), (0.74, .476), (0.55, .425), (-0.52, .46), (-0.45, .42), (-0.40, .47), (-0.36, .43),
    (-0.32, .48), (-0.28, .44), (-0.24, .40), (-0.20, .46), (-0.16, .42), (-0.12, .48), (-0.09, .44),
    (-0.05, .40), (-0.01, .46), (0.03, .42), (0.07, .48), (0.10, .44), (0.14, .40), (0.18, .46), (0.22, .42),
    (0.26, .48), (0.30, .44), (0.35, .40), (0.40, .46), (0.45, .42),
    (-0.55, .33), (-0.48, .37), (-0.44, .32), (-0.40, .36), (-0.36, .31), (-0.32, .35), (-0.28, .39),
    (-0.24, .34), (-0.20, .38), (-0.17, .33), (-0.13, .37), (-0.10, .31), (-0.06, .35), (-0.03, .39),
    (0.01, .33), (0.04, .37), (0.08, .31), (0.11, .35), (0.15, .39), (0.18, .33), (0.22, .37), (0.25, .31),
    (0.29, .35), (0.33, .38), (0.38, .32), (0.523, .311), (0.45, .36),
    (-0.70, .24), (-0.62, .28), (-0.56, .23), (-0.50, .27), (-0.46, .22), (-0.42, .26), (-0.38, .21),
    (-0.34, .25), (-0.30, .29), (-0.26, .24), (-0.22, .28), (-0.18, .22), (-0.14, .26), (-0.10, .21),
    (-0.07, .25), (-0.03, .29), (0.01, .23), (0.05, .27), (0.09, .21), (0.13, .25), (0.17, .29), (0.21, .23),
    (0.25, .27), (0.30, .22), (0.36, .26), (0.512, .274), (0.56, .229), (0.596, .204), (0.42, .24),
    (-0.75, .13), (-0.68, .17), (-0.63, .12), (-0.58, .16), (-0.53, .11), (-0.49, .15), (-0.45, .19),
    (-0.41, .14), (-0.37, .18), (-0.33, .12), (-0.29, .16), (-0.25, .11), (-0.21, .15), (-0.17, .19),
    (-0.13, .13), (-0.09, .17), (-0.05, .11), (-0.01, .15), (0.03, .19), (0.07, .13), (0.11, .17),
    (0.15, .11), (0.20, .15), (0.26, .12), (0.32, .16), (0.489, .178), (0.539, .153), (0.40, .13),
    (-0.44, .07), (-0.38, .04), (-0.32, .08), (-0.26, .05), (-0.20, .09), (-0.15, .03), (-0.11, .06),
    (-0.07, .02), (-0.03, .07), (0.01, .04), (0.05, .09), (0.09, .01), (0.13, .05), (0.18, .02),
    (0.255, .066), (0.289, .063), (0.523, .035), (0.22, .08), (0.35, .06), (0.44, .09), (-0.23, .005),
    (0.03, .005),
    (0.05, .58), (0.10, .62), (0.15, .66), (0.20, .70), (0.25, .74), (0.30, .78), (0.35, .82), (-0.05, .50),
    (0.00, .45), (0.10, .50), (0.20, .55), (0.30, .62), (0.40, .70), (0.45, .78), (0.20, .38), (0.30, .40),
    (0.06, .35), (-0.08, .28), (-0.15, .20), (0.12, .28), (0.26, .33),
]

# axis ticks
x_ticks = [-2.0, -1.5, -1.0, -0.5, 0.0, 0.5, 1.0]
x_tick_labels = ["-2", "", "-1", "", "0", "", "1"]
y_ticks = [0.0, 0.2, 0.4, 0.6, 0.8, 1.0]
y_tick_labels = ["0", "0.2", "0.4", "0.6", "0.8", "1.0"]

model_names = ["B10", "H11", "MB19"]
model_colors = ["#000000", "#ff0000", "#00e600"]

# ---------------------------------------------------------------- style
sns.set_theme(style="white")
plt.rcParams["font.family"] = ["Lato", "DejaVu Sans"]
plt.rcParams["text.color"] = "black"
plt.rcParams["axes.labelcolor"] = "black"
plt.rcParams["xtick.color"] = "black"
plt.rcParams["ytick.color"] = "black"

fig = plt.figure(figsize=(10.62, 7.44), dpi=100)
fig.patch.set_facecolor("white")

W, H = 1062.0, 744.0


def px_axes(left, top, right, bottom):
    return fig.add_axes([left / W, 1 - bottom / H, (right - left) / W, (bottom - top) / H])


ax_tl = px_axes(108, 42, 547, 342)
ax_tr = px_axes(623, 42, 1063, 342)
ax_bl = px_axes(108, 398, 547, 697)
ax_br = px_axes(623, 401, 1063, 698)

panels = [
    (ax_tl, dp_pico_obs, [pico_b10, pico_h11, pico_mb19_dp]),
    (ax_tr, dp_micro_obs, [micro_b10, micro_h11, micro_mb19_dp]),
    (ax_bl, chemtax_pico_obs, [pico_b10, pico_h11, pico_mb19_chemtax]),
    (ax_br, chemtax_micro_obs, [micro_b10, micro_h11, micro_mb19_chemtax]),
]

for ax, obs, curves in panels:
    ox = [p[0] for p in obs]
    oy = [p[1] for p in obs]
    sns.scatterplot(x=ox, y=oy, ax=ax, s=27, color="#0000ff",
                    edgecolor="#0000ff", linewidth=0.9, legend=False, zorder=2)
    coll = ax.collections[-1]
    coll.set_facecolor("none")
    coll.set_edgecolor("#0000ff")

    for vals, col in zip(curves, model_colors):
        sns.lineplot(x=log_chla, y=vals, ax=ax, color=col, linewidth=1.6,
                     estimator=None, sort=False, legend=False, zorder=3)

    ax.set_xlim(-2, 1)
    ax.set_ylim(0, 1)
    ax.set_xticks(x_ticks)
    ax.set_xticklabels(x_tick_labels)
    ax.set_yticks(y_ticks)
    ax.set_yticklabels(y_tick_labels)
    ax.grid(True, color="#d8d8d8", linewidth=0.9)
    ax.set_axisbelow(True)
    ax.tick_params(axis="both", direction="in", length=5, width=1.1,
                   bottom=True, top=True, left=True, right=True, labelsize=11.5)
    ax.tick_params(axis="x", pad=2)
    ax.tick_params(axis="y", pad=4)
    for sp in ax.spines.values():
        sp.set_linewidth(1.4)
        sp.set_color("black")
    ax.set_xlabel("log10 Chla (mg/m³)", fontsize=14)
    ax.xaxis.set_label_coords(0.555, -0.065)
    ax.set_ylabel("Biomass fraction", fontsize=11)
    ax.yaxis.set_label_coords(-0.073, 0.5)

handles = [Line2D([], [], color=c, linewidth=2) for c in model_colors]
ax_tl.legend(handles, model_names, loc="upper left", bbox_to_anchor=(0.793, 0.885),
             frameon=False, fontsize=13.5, handlelength=1.65, handletextpad=0.28,
             labelspacing=0.7, borderpad=0, borderaxespad=0)

fig.text(330 / W, 1 - 20 / H, "Picoplankton", fontsize=16, ha="center", va="center")
fig.text(858 / W, 1 - 20 / H, "Microplankton", fontsize=16, ha="center", va="center")
fig.text(40 / W, 1 - 190 / H, "DP", fontsize=18.5, rotation=90, ha="center", va="center")
fig.text(40 / W, 1 - 545 / H, "CHEMTAX", fontsize=18.5, rotation=90, ha="center", va="center")

fig.savefig("out.png", dpi=100, facecolor="white")
